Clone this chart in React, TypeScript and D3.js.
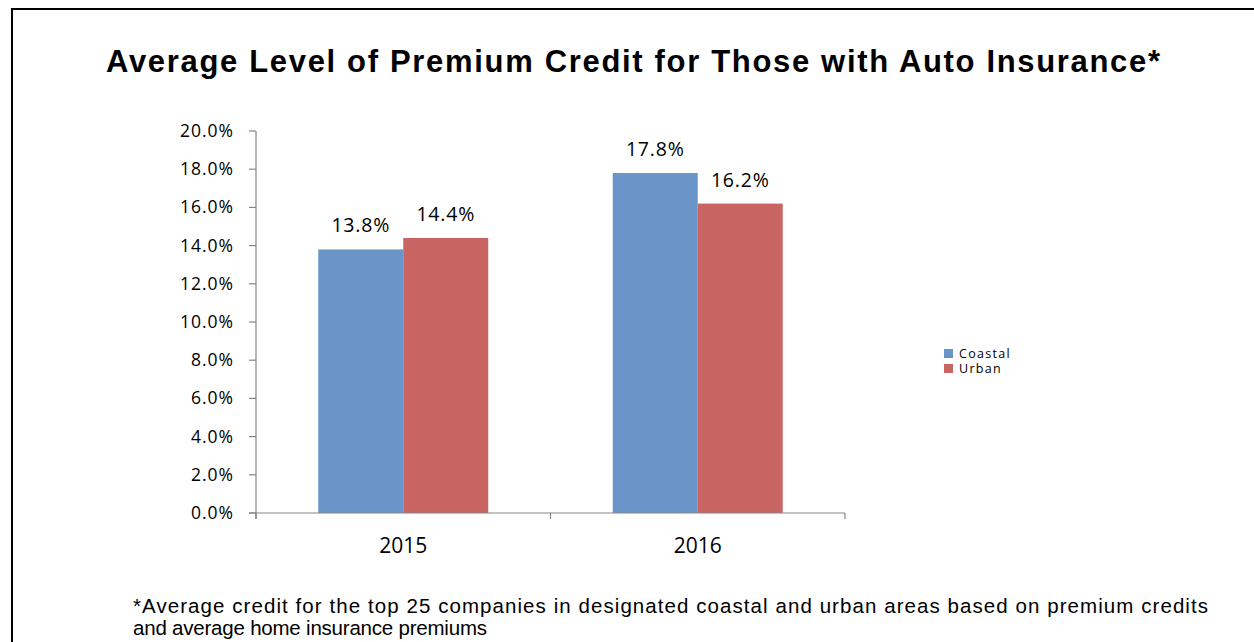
import React from 'react';
import * as d3 from 'd3';

const years = ['2015', '2016'];
const seriesNames = ['Coastal', 'Urban'];
const coastal = [13.8, 17.8];
const urban = [14.4, 16.2];
const yTicks = [0, 2, 4, 6, 8, 10, 12, 14, 16, 18, 20];
const colors = ['#6A95C8', '#C86563'];

const W = 1254;
const H = 642;

const App: React.FC = () => {
  const plotLeft = 256;
  const plotRight = 845;
  const plotTop = 131;
  const plotBottom = 513;

  const x = d3.scaleBand<string>().domain(years).range([plotLeft, plotRight]);
  const y = d3.scaleLinear().domain([0, 20]).range([plotBottom, plotTop]);
  const barW = 85;

  const seriesValues = [coastal, urban];
  const labelFont = '"Open Sans", "Noto Sans", sans-serif';
  const arial = '"Liberation Sans", Arial, sans-serif';

  return (
    <svg width={W} height={H} style={{ position: 'absolute', left: 0, top: 0 }}>
      <rect x={0} y={0} width={W} height={H} fill="#fff" />
      <rect x={12} y={9} width={W + 20} height={H + 20} fill="none" stroke="#000" strokeWidth={2} />

      <text
        x={633}
        y={72}
        textAnchor="middle"
        fontFamily={arial}
        fontWeight="bold"
        fontSize={31}
        textLength={1054}
        lengthAdjust="spacing"
      >
        Average Level of Premium Credit for Those with Auto Insurance*
      </text>

      {/* y axis */}
      <line x1={plotLeft} x2={plotLeft} y1={plotTop} y2={plotBottom + 6} stroke="#868686" strokeWidth={1.2} />
      {yTicks.map(t => (
        <g key={t}>
          <line x1={plotLeft - 7} x2={plotLeft} y1={y(t)} y2={y(t)} stroke="#868686" strokeWidth={1.2} />
          <text
            x={234}
            y={y(t)}
            dy="0.34em"
            textAnchor="end"
            fontFamily={labelFont}
            fontSize={17.5}
            letterSpacing={1}
            fill="#000"
          >
            {t.toFixed(1)}%
          </text>
        </g>
      ))}

      {/* bars */}
      {years.map((yr, i) => {
        const cx = (x(yr) || 0) + x.bandwidth() / 2;
        return (
          <g key={yr}>
            {seriesValues.map((vals, s) => {
              const bx = cx - barW + s * barW;
              return (
                <g key={s}>
                  <rect
                    x={bx}
                    y={y(vals[i])}
                    width={barW}
                    height={plotBottom - y(vals[i])}
                    fill={colors[s]}
                  />
                  <text
                    x={bx + barW / 2}
                    y={y(vals[i]) - 17}
                    textAnchor="middle"
                    fontFamily={labelFont}
                    fontSize={19.5}
                    letterSpacing={0.8}
                  >
                    {vals[i].toFixed(1)}%
                  </text>
                </g>
              );
            })}
            <text
              x={cx}
              y={553}
              textAnchor="middle"
              fontFamily={labelFont}
              fontSize={21}
            >
              {yr}
            </text>
          </g>
        );
      })}

      {/* x axis */}
      <line x1={plotLeft - 7} x2={plotRight} y1={plotBottom} y2={plotBottom} stroke="#868686" strokeWidth={1.2} />
      {[plotLeft, plotLeft + x.bandwidth(), plotRight].map((t, i) => (
        <line key={i} x1={t} x2={t} y1={plotBottom} y2={plotBottom + 6} stroke="#868686" strokeWidth={1.2} />
      ))}

      {/* legend */}
      {seriesNames.map((n, i) => (
        <g key={n} transform={`translate(944, ${349 + i * 15})`}>
          <rect x={0} y={0} width={9} height={9} fill={colors[i]} />
          <text x={15} y={9} fontFamily={labelFont} fontSize={12.5} letterSpacing={1.3}>
            {n}
          </text>
        </g>
      ))}

      {/* footnote */}
      <text x={133} y={613} fontFamily={arial} fontSize={20.5} textLength={1075} lengthAdjust="spacing">
        *Average credit for the top 25 companies in designated coastal and urban areas based on premium credits
      </text>
      <text x={133} y={635} fontFamily={arial} fontSize={20.5} textLength={354} lengthAdjust="spacing">
        and average home insurance premiums
      </text>
    </svg>
  );
};

export default App;
